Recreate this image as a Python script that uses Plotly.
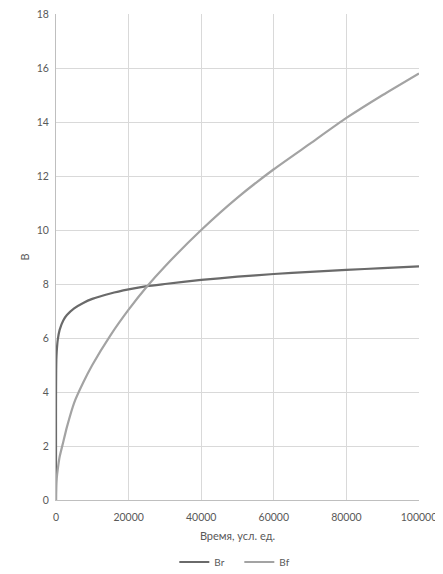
import plotly.graph_objects as go

# time points
time = [0, 1, 10, 50, 100, 200, 500, 1000, 2000, 3000, 5000, 7500, 10000,
        15000, 20000, 25000, 30000, 40000, 50000, 60000, 70000, 80000,
        90000, 100000]

br = [0, 2.9, 4.0, 4.8, 5.2, 5.5, 5.95, 6.3, 6.65, 6.85, 7.1, 7.3, 7.45,
      7.65, 7.8, 7.92, 8.0, 8.15, 8.27, 8.37, 8.45, 8.52, 8.59, 8.65]

bf = [0, 0.05, 0.2, 0.4, 0.6, 0.8, 1.15, 1.6, 2.15, 2.7, 3.6, 4.35, 5.0,
      6.1, 7.05, 7.9, 8.65, 10.0, 11.2, 12.25, 13.2, 14.15, 15.0, 15.8]

fam = 'Lato, "Open Sans", sans-serif'
font = dict(family=fam, size=11, color='#595959')
tickfont = dict(family=fam, size=10.5, color='#595959')

fig = go.Figure()
fig.add_trace(go.Scatter(x=time, y=br, name='Br', mode='lines',
                         line=dict(color='#6a6a6a', width=2.2, shape='spline', smoothing=0.5)))
fig.add_trace(go.Scatter(x=time, y=bf, name='Bf', mode='lines',
                         line=dict(color='#a3a3a3', width=2.2, shape='spline', smoothing=0.5)))

# page body has an 8px margin; figure runs a little past the window on purpose
fig.update_layout(
    width=443, height=600,
    margin=dict(l=48, r=32, t=6, b=108),
    paper_bgcolor='white', plot_bgcolor='white',
    font=font,
    showlegend=True,
    legend=dict(orientation='h', x=0.505, xanchor='center', y=-0.1276, yanchor='middle',
                font=dict(family=fam, size=10, color='#595959'),
                itemwidth=30, entrywidth=20, entrywidthmode='pixels', tracegroupgap=0),
    xaxis=dict(range=[0, 100000], dtick=20000, tickformat='d', automargin=False,
               ticklabeloverflow='allow', tickfont=tickfont,
               showgrid=True, gridcolor='#d9d9d9', gridwidth=1,
               showline=True, linecolor='#bfbfbf', linewidth=1,
               zeroline=False, ticks='outside', ticklen=7, tickcolor='white',
               title=dict(text='Время, усл. ед.', standoff=10, font=font)),
    yaxis=dict(range=[0, 18], dtick=2, automargin=False,
               ticklabeloverflow='allow', tickfont=tickfont,
               showgrid=True, gridcolor='#d9d9d9', gridwidth=1,
               showline=True, linecolor='#bfbfbf', linewidth=1,
               zeroline=False, ticks='outside', ticklen=4, tickcolor='white',
               title=dict(text='B', standoff=4, font=font)),
)

# no scrollbars, so the right-hand tick label is not eaten
fig.write_html("out.html", post_script="document.body.style.overflow = 'hidden';")
